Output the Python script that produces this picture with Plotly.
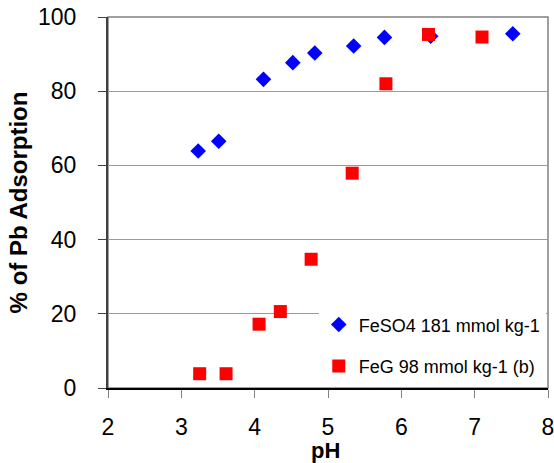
import plotly.graph_objects as go

feso4_ph = [3.23, 3.51, 4.12, 4.52, 4.82, 5.35, 5.77, 6.40, 7.52]
feso4_ads = [63.9, 66.5, 83.2, 87.7, 90.3, 92.2, 94.5, 94.8, 95.5]
feg_ph = [3.25, 3.61, 4.06, 4.35, 4.77, 5.33, 5.79, 6.37, 7.10]
feg_ads = [3.85, 3.85, 17.2, 20.6, 34.7, 57.9, 82.0, 95.3, 94.6]

x_ticks = [2, 3, 4, 5, 6, 7, 8]
y_ticks = [0, 20, 40, 60, 80, 100]

FONT = "Liberation Sans"

fig = go.Figure()
fig.add_trace(go.Scatter(
    x=feso4_ph, y=feso4_ads, mode="markers", name="FeSO4 181 mmol kg-1",
    legendgroup="a",
    marker=dict(symbol="diamond", size=12, color="#0000FF", line=dict(width=0)),
))
fig.add_trace(go.Scatter(
    x=feg_ph, y=feg_ads, mode="markers", name="FeG 98 mmol kg-1 (b)",
    legendgroup="b",
    marker=dict(symbol="square", size=13, color="#FF0000", line=dict(width=0)),
))

fig.update_layout(
    width=554, height=463,
    margin=dict(l=108, r=6, t=17, b=75, autoexpand=False),
    paper_bgcolor="white", plot_bgcolor="white",
    font=dict(family=FONT, color="#000000"),
    showlegend=True,
    legend=dict(
        x=0.479, y=0.01, xanchor="left", yanchor="bottom",
        bgcolor="white", font=dict(size=18, family=FONT),
        tracegroupgap=15, itemwidth=30,
    ),
    shapes=[dict(type="rect", xref="paper", yref="paper", x0=0, y0=0, x1=1, y1=1,
                 line=dict(color="#808080", width=1.5), layer="below")],
    annotations=[dict(text="<b>pH</b>", xref="paper", yref="paper", x=0.495, y=0,
                      xanchor="center", yanchor="middle", yshift=-62, showarrow=False,
                      font=dict(size=22, family=FONT))],
)
fig.update_xaxes(
    range=[2, 8], tickvals=x_ticks, ticks="outside", ticklen=8, tickcolor="#808080",
    showline=True, linecolor="#000000", linewidth=1.5, showgrid=False, zeroline=False,
    tickfont=dict(size=23, family=FONT), ticklabelstandoff=10, automargin=False,
    ticklabeloverflow="allow",
)
fig.update_yaxes(
    range=[0, 100], tickvals=y_ticks, ticks="outside", ticklen=8, tickcolor="#404040",
    showline=True, linecolor="#404040", linewidth=2, showgrid=True, gridcolor="#9a9a9a",
    gridwidth=1, zeroline=False, automargin=False, ticklabeloverflow="allow",
    tickfont=dict(size=23, family=FONT), ticklabelstandoff=17,
    title=dict(text="<b>% of Pb Adsorption</b>", font=dict(size=24, family=FONT), standoff=4),
)

fig.write_html("out.html", config={"displayModeBar": False},
               post_script="document.body.style.margin='0';document.body.style.overflow='hidden';")
